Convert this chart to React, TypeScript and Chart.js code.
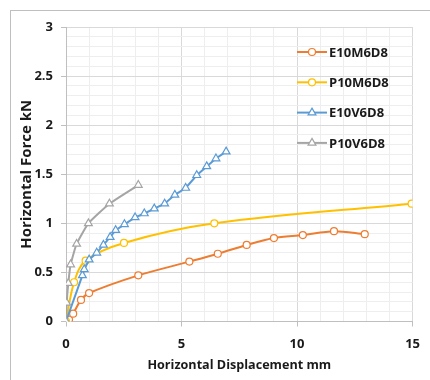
import React, { useEffect, useRef } from 'react';
import { Chart, registerables } from 'chart.js';

Chart.register(...registerables);

const seriesNames = ['E10M6D8', 'P10M6D8', 'E10V6D8', 'P10V6D8'];
const seriesColors = ['#ED7D31', '#FFC000', '#5B9BD5', '#A5A5A5'];
const seriesMarkers = ['circle', 'circle', 'triangle', 'triangle'];

const e10m6d8X = [0, 0.13, 0.31, 0.65, 1.0, 3.13, 5.34, 6.57, 7.82, 9.0, 10.25, 11.6, 12.93];
const e10m6d8Y = [0, 0.02, 0.08, 0.22, 0.29, 0.47, 0.61, 0.69, 0.78, 0.85, 0.88, 0.92, 0.89];

const p10m6d8X = [0, 0.35, 0.85, 2.51, 6.42, 14.96];
const p10m6d8Y = [0, 0.4, 0.62, 0.8, 1.0, 1.2];

const e10v6d8X = [0, 0.71, 0.79, 1.0, 1.33, 1.62, 1.91, 2.15, 2.53, 2.99, 3.39, 3.82, 4.27, 4.71, 5.18, 5.66, 6.09, 6.49, 6.93];
const e10v6d8Y = [0, 0.47, 0.53, 0.63, 0.7, 0.78, 0.86, 0.93, 0.99, 1.06, 1.1, 1.15, 1.2, 1.29, 1.36, 1.49, 1.58, 1.66, 1.73];

const p10v6d8X = [0, 0.03, 0.1, 0.2, 0.46, 0.97, 1.88, 3.13];
const p10v6d8Y = [0, 0.19, 0.39, 0.58, 0.79, 1.0, 1.2, 1.39];

const xTickLabels = ['0', '5', '10', '15'];
const yTickLabels = ['0', '0.5', '1', '1.5', '2', '2.5', '3'];

const xTitle = 'Horizontal Displacement mm';
const yTitle = 'Horizontal Force kN';

const seriesX = [e10m6d8X, p10m6d8X, e10v6d8X, p10v6d8X];
const seriesY = [e10m6d8Y, p10m6d8Y, e10v6d8Y, p10v6d8Y];
const seriesTension = [0.3, 0.35, 0, 0.15];

const FONT = "'Open Sans', 'DejaVu Sans', sans-serif";
const TEXT = '#1a1a1a';

const near = (v: number, step: number) => Math.abs(v / step - Math.round(v / step)) < 1e-6;

function drawMarker(ctx: CanvasRenderingContext2D, kind: string, x: number, y: number, color: string) {
  ctx.save();
  ctx.fillStyle = '#ffffff';
  ctx.strokeStyle = color;
  ctx.lineWidth = 1.2;
  ctx.beginPath();
  if (kind === 'circle') {
    ctx.arc(x, y, 3.5, 0, Math.PI * 2);
  } else {
    const r = 4.5;
    ctx.moveTo(x, y - r);
    ctx.lineTo(x + r * 0.87, y + r * 0.5);
    ctx.lineTo(x - r * 0.87, y + r * 0.5);
    ctx.closePath();
  }
  ctx.fill();
  ctx.stroke();
  ctx.restore();
}

const legendPlugin = {
  id: 'customLegend',
  afterDraw(chart: any) {
    const ctx: CanvasRenderingContext2D = chart.ctx;
    const area = chart.chartArea;
    const x0 = area.left + 231;
    const x1 = x0 + 30;
    const yStart = area.top + 25;
    const gap = 30.3;
    ctx.save();
    seriesNames.forEach((name, i) => {
      const y = yStart + i * gap;
      ctx.strokeStyle = seriesColors[i];
      ctx.lineWidth = 2;
      ctx.beginPath();
      ctx.moveTo(x0, y);
      ctx.lineTo(x1, y);
      ctx.stroke();
      drawMarker(ctx, seriesMarkers[i], (x0 + x1) / 2, y, seriesColors[i]);
      ctx.fillStyle = TEXT;
      ctx.font = `bold 13px ${FONT}`;
      ctx.textAlign = 'left';
      ctx.textBaseline = 'middle';
      ctx.fillText(name, x1 + 2, y + 1);
    });
    ctx.restore();
  },
};

export default function App() {
  const ref = useRef<HTMLCanvasElement | null>(null);

  useEffect(() => {
    if (!ref.current) return;
    const datasets = seriesNames.map((name, i) => ({
      label: name,
      data: seriesX[i].map((x, j) => ({ x, y: seriesY[i][j] })),
      borderColor: seriesColors[i],
      backgroundColor: '#ffffff',
      borderWidth: 2,
      pointStyle: seriesMarkers[i],
      pointRadius: seriesMarkers[i] === 'circle' ? 3.5 : 4.5,
      pointBorderWidth: 1.2,
      pointBackgroundColor: '#ffffff',
      pointBorderColor: seriesColors[i],
      tension: seriesTension[i],
      fill: false,
      order: 4 - i,
    }));

    const chart = new Chart(ref.current, {
      type: 'line',
      data: { datasets },
      plugins: [legendPlugin],
      options: {
        animation: false,
        responsive: false,
        maintainAspectRatio: false,
        layout: { padding: { left: 0, top: 27, right: 17, bottom: 4 } },
        plugins: { legend: { display: false }, tooltip: { enabled: false } },
        scales: {
          x: {
            type: 'linear',
            min: 0,
            max: 15,
            afterFit: (s: any) => { s.height = 54.5; },
            ticks: {
              stepSize: 1,
              autoSkip: false,
              maxRotation: 0,
              padding: 10,
              color: TEXT,
              font: { family: FONT, size: 13, weight: 'bold' },
              callback: (v: any) => (near(Number(v), 5) ? xTickLabels[Math.round(Number(v) / 5)] : ''),
            },
            grid: {
              color: (c: any) => (c.tick && near(c.tick.value, 5) ? '#d9d9d9' : '#eeeeee'),
              tickColor: (c: any) => (c.tick && near(c.tick.value, 5) ? '#bfbfbf' : 'rgba(0,0,0,0)'),
              tickLength: 5,
              lineWidth: 1,
            },
            border: { color: '#bfbfbf' },
            title: {
              display: true,
              text: xTitle,
              color: TEXT,
              font: { family: FONT, size: 12.6, weight: 'bold' },
              padding: { top: 0, bottom: 3 },
            },
          },
          y: {
            type: 'linear',
            min: 0,
            max: 3,
            afterFit: (s: any) => { s.width = 66; },
            ticks: {
              stepSize: 0.1,
              autoSkip: false,
              padding: 8,
              color: TEXT,
              font: { family: FONT, size: 13, weight: 'bold' },
              callback: (v: any) => (near(Number(v), 0.5) ? yTickLabels[Math.round(Number(v) / 0.5)] : ''),
            },
            grid: {
              color: (c: any) => (c.tick && near(c.tick.value, 0.5) ? '#d9d9d9' : '#eeeeee'),
              tickColor: (c: any) => (c.tick && near(c.tick.value, 0.5) ? '#bfbfbf' : 'rgba(0,0,0,0)'),
              tickLength: 5,
              lineWidth: 1,
            },
            border: { color: '#bfbfbf' },
            title: {
              display: true,
              text: yTitle,
              color: TEXT,
              font: { family: FONT, size: 15, weight: 'bold' },
              padding: { top: 18, bottom: 0 },
            },
          },
        },
      },
    });
    return () => chart.destroy();
  }, []);

  return (
    <div style={{ position: 'absolute', left: 0, top: 0, width: 430, height: 380, background: '#ffffff', overflow: 'hidden' }}>
      <div style={{ position: 'absolute', left: 10, top: 10, width: 430, height: 400, border: '1px solid #bfbfbf', boxSizing: 'border-box' }} />
      <canvas ref={ref} width={430} height={380} style={{ position: 'absolute', left: 0, top: 0 }} />
    </div>
  );
}
